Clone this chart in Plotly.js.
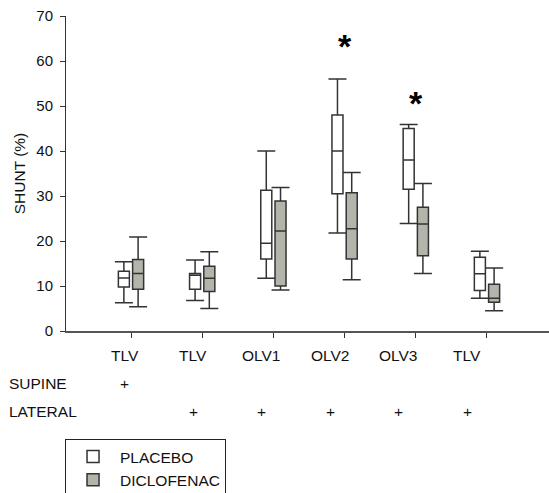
<!DOCTYPE html>
<html>
<head>
<meta charset="utf-8">
<script src="https://cdn.plot.ly/plotly-3.0.1.min.js"></script>
<style>html,body{margin:0;padding:0;background:#fff;}#chart{width:549px;height:493px;}</style>
</head>
<body>
<div id="chart"></div>
<script>
// ---- data ----
const categories = ['TLV', 'TLV', 'OLV1', 'OLV2', 'OLV3', 'TLV'];
const supineRow = ['+', '', '', '', '', ''];
const lateralRow = ['', '+', '+', '+', '+', '+'];
const rowLabels = ['SUPINE', 'LATERAL'];

const placeboUpper  = [15.4, 15.8, 40.0, 56.0, 45.9, 17.7];
const placeboQ3     = [13.3, 12.8, 31.3, 48.0, 45.0, 16.4];
const placeboMedian = [11.8, 12.4, 19.5, 40.0, 38.0, 12.7];
const placeboQ1     = [9.8, 9.3, 16.0, 30.5, 31.5, 9.0];
const placeboLower  = [6.3, 6.8, 11.7, 21.8, 23.9, 7.3];

const dicloUpper  = [20.9, 17.6, 31.9, 35.2, 32.8, 14.0];
const dicloQ3     = [15.9, 14.4, 28.9, 30.7, 27.5, 10.4];
const dicloMedian = [12.8, 11.7, 22.2, 22.7, 23.8, 7.3];
const dicloQ1     = [9.3, 8.8, 10.0, 16.0, 16.7, 6.4];
const dicloLower  = [5.4, 5.0, 9.1, 11.4, 12.8, 4.5];

const sigIndex = [4, 5];
const sigY = [63.3, 50.6];

// ---- styling ----
const FONT = 'Liberation Sans, Arial, sans-serif';
const LINE = '#333333';
const GREY = '#b3b5ab';
const OFFSET = 0.1;
const BOXW = 0.155;
const TABLE_X0 = 0.915, TABLE_STEP = 0.961;
const TXT = 15.5;

const pos = categories.map((c, i) => i + 1);
const xP = pos.map(p => p - OFFSET);
const xD = pos.map(p => p + OFFSET);

function whiskers(x, med, up, lo) {
  return {
    type: 'scatter', mode: 'markers', x: x, y: med,
    xaxis: 'x', yaxis: 'y',
    marker: {size: 1, color: 'rgba(0,0,0,0)'},
    error_y: {type: 'data', symmetric: false,
      array: up.map((u, i) => u - med[i]),
      arrayminus: lo.map((l, i) => med[i] - l),
      color: LINE, thickness: 1.5, width: 9},
    showlegend: false, hoverinfo: 'skip'
  };
}
function boxes(name, x, q1, med, q3, fill) {
  return {
    type: 'box', name: name, x: x, q1: q1, median: med, q3: q3,
    lowerfence: q1, upperfence: q3,
    xaxis: 'x', yaxis: 'y2', width: BOXW,
    fillcolor: fill, line: {color: LINE, width: 1.5},
    whiskerwidth: 0, boxpoints: false, hoverinfo: 'skip'
  };
}

const data = [
  whiskers(xP, placeboMedian, placeboUpper, placeboLower),
  whiskers(xD, dicloMedian, dicloUpper, dicloLower),
  boxes('PLACEBO', xP, placeboQ1, placeboMedian, placeboQ3, '#ffffff'),
  boxes('DICLOFENAC', xD, dicloQ1, dicloMedian, dicloQ3, GREY)
];

const annotations = [];
categories.forEach((c, i) => {
  const x = TABLE_X0 + i * TABLE_STEP;
  annotations.push({text: c, x: x, y: -0.0784, xref: 'x', yref: 'paper',
    showarrow: false, xanchor: 'center', yanchor: 'middle', font: {size: TXT}});
  if (supineRow[i]) annotations.push({text: supineRow[i], x: x, y: -0.166, xref: 'x', yref: 'paper',
    showarrow: false, xanchor: 'center', yanchor: 'middle', font: {size: TXT}});
  if (lateralRow[i]) annotations.push({text: lateralRow[i], x: x, y: -0.2562, xref: 'x', yref: 'paper',
    showarrow: false, xanchor: 'center', yanchor: 'middle', font: {size: TXT}});
});
annotations.push({text: rowLabels[0], x: -0.122, y: -0.166, xref: 'paper', yref: 'paper',
  showarrow: false, xanchor: 'left', yanchor: 'middle', font: {size: TXT}});
annotations.push({text: rowLabels[1], x: -0.122, y: -0.2562, xref: 'paper', yref: 'paper',
  showarrow: false, xanchor: 'left', yanchor: 'middle', font: {size: TXT}});
sigIndex.forEach((g, k) => {
  annotations.push({text: '<b>*</b>', x: g, y: sigY[k], xref: 'x', yref: 'y',
    showarrow: false, xanchor: 'center', yanchor: 'middle', font: {size: 34, color: '#000'}});
});

const layout = {
  width: 549, height: 493,
  margin: {l: 66, r: 0, t: 16, b: 162, pad: 0, autoexpand: false},
  paper_bgcolor: '#ffffff', plot_bgcolor: '#ffffff',
  font: {family: FONT, color: '#111111', size: 15},
  boxmode: 'overlay',
  xaxis: {range: [0.087, 6.871], showgrid: false, zeroline: false,
    showline: true, linecolor: '#555555', linewidth: 2,
    tickmode: 'array', tickvals: pos, ticks: 'outside', ticklen: 5,
    tickcolor: '#333333', tickwidth: 1, showticklabels: false, fixedrange: true},
  yaxis: {range: [0, 70], showgrid: false, zeroline: false,
    showline: true, linecolor: '#333333', linewidth: 1,
    tickmode: 'array', tickvals: [0, 10, 20, 30, 40, 50, 60, 70],
    ticks: 'outside', ticklen: 5, tickcolor: '#333333',
    ticklabelstandoff: 4, tickfont: {size: 15}, fixedrange: true,
    title: {text: 'SHUNT (%)', font: {size: 15.5}, standoff: 6}},
  yaxis2: {range: [0, 70], overlaying: 'y', visible: false, fixedrange: true},
  showlegend: true,
  legend: {x: -0.002, y: -0.343, xanchor: 'left', yanchor: 'top',
    bordercolor: '#222222', borderwidth: 1, bgcolor: '#ffffff',
    font: {size: TXT}, itemwidth: 44, entrywidth: 139, tracegroupgap: 0},
  annotations: annotations
};

Plotly.newPlot('chart', data, layout, {staticPlot: true, displayModeBar: false});
</script>
</body>
</html>
